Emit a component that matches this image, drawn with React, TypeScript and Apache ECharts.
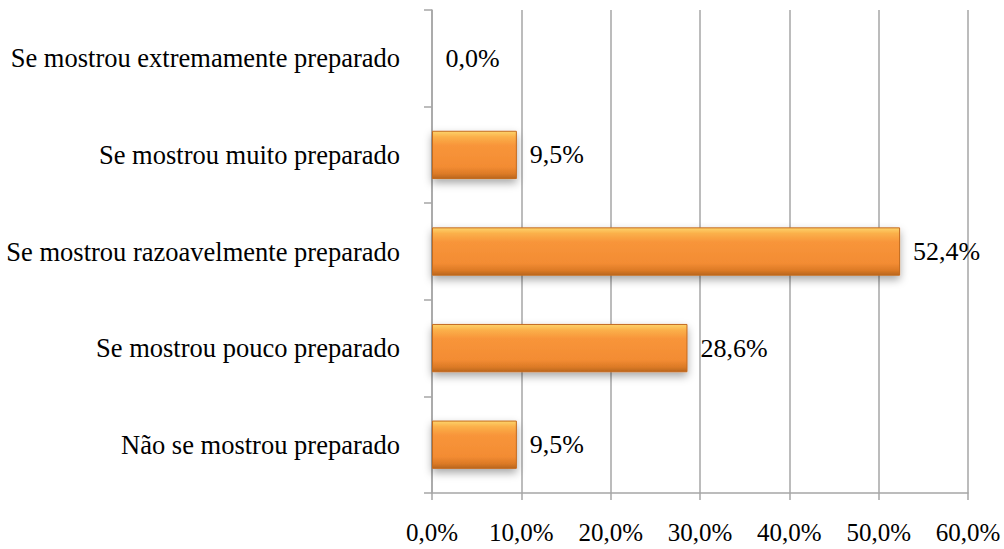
import React, { useEffect, useRef } from "react";
import * as echarts from "echarts";

const categories = [
  "Não se mostrou preparado",
  "Se mostrou pouco preparado",
  "Se mostrou razoavelmente preparado",
  "Se mostrou muito preparado",
  "Se mostrou extremamente preparado",
];
const values = [9.5, 28.6, 52.4, 9.5, 0.0];
const xTicks = [0, 10, 20, 30, 40, 50, 60];

const fmt = (v: number) => v.toFixed(1).replace(".", ",") + "%";

export default function App() {
  const ref = useRef<HTMLDivElement>(null);
  useEffect(() => {
    document.body.style.margin = "0";
    const chart = echarts.init(ref.current!, undefined, { renderer: "svg" });
    const font = "Liberation Serif";
    chart.setOption({
      animation: false,
      backgroundColor: "#ffffff",
      grid: { left: 432, right: 36, top: 10, bottom: 56, containLabel: false },
      xAxis: {
        type: "value",
        min: xTicks[0],
        max: xTicks[xTicks.length - 1],
        interval: 10,
        axisLine: { show: true, lineStyle: { color: "#a6a6a6", width: 1.5 } },
        axisTick: { show: true, length: 7, lineStyle: { color: "#a6a6a6", width: 1.5 } },
        splitLine: { show: true, lineStyle: { color: "#a6a6a6", width: 1.5 } },
        axisLabel: {
          formatter: (v: number) => fmt(v),
          color: "#000",
          fontFamily: font,
          fontSize: 25,
          margin: 27,
        },
      },
      yAxis: {
        type: "category",
        data: categories,
        axisLine: { show: true, lineStyle: { color: "#a6a6a6", width: 1.5 } },
        axisTick: { show: true, length: 8, lineStyle: { color: "#a6a6a6", width: 1.5 } },
        axisLabel: {
          color: "#000",
          fontFamily: font,
          fontSize: 26.5,
          margin: 32,
        },
      },
      series: [
        {
          type: "bar",
          data: values,
          barWidth: "50%",
          itemStyle: {
            color: new echarts.graphic.LinearGradient(0, 0, 0, 1, [
              { offset: 0, color: "#fdd36a" },
              { offset: 0.12, color: "#fbb04a" },
              { offset: 0.3, color: "#f8953a" },
              { offset: 0.75, color: "#f38c33" },
              { offset: 0.9, color: "#dc7a26" },
              { offset: 1, color: "#b9661d" },
            ]),
            borderColor: "#c46a1e",
            borderWidth: 1,
            shadowColor: "rgba(0,0,0,0.35)",
            shadowBlur: 8,
            shadowOffsetY: 4,
          },
          label: {
            show: true,
            position: "right",
            distance: 13,
            formatter: (p: any) => fmt(p.value),
            color: "#000",
            fontFamily: font,
            fontSize: 26,
          },
        },
      ],
    });
    return () => chart.dispose();
  }, []);
  return <div ref={ref} style={{ width: 1004, height: 549 }} />;
}
